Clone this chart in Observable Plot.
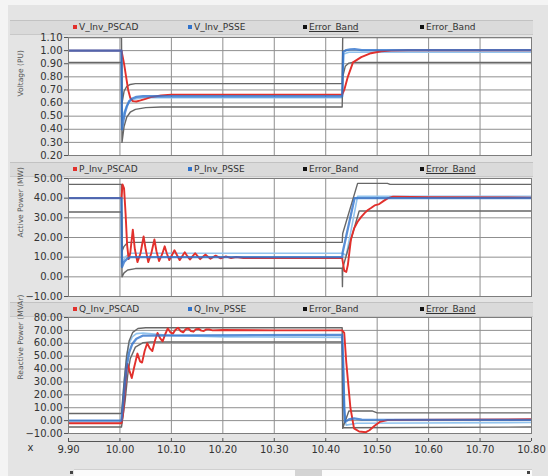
<!DOCTYPE html>
<html>
<head>
<meta charset="utf-8">
<script src="https://cdn.jsdelivr.net/npm/d3@7"></script>
<script src="https://cdn.jsdelivr.net/npm/@observablehq/plot@0.6"></script>
<style>
  html, body { margin: 0; padding: 0; background: #f4f4f4; }
  #page { position: relative; width: 548px; height: 476px; overflow: hidden; background: #f4f4f4; font-family: "DejaVu Sans", sans-serif; }
  #bg { position: absolute; left: 8px; top: 5px; width: 540px; height: 471px; background: #e4e4e4; }
  .legend { position: absolute; left: 10px; width: 523px; height: 13px; background: #dadada; border-top: 1px solid #c2c2c2; border-bottom: 1px solid #c8c8c8; }
  .item { position: absolute; top: 0; height: 13px; line-height: 13px; font-size: 9px; color: #333; white-space: nowrap; }
  .mk { display: inline-block; width: 4px; height: 4px; margin-right: 2px; vertical-align: 1px; }
  .u { text-decoration: underline; }
  #scroll { position: absolute; left: 74px; top: 469px; width: 458px; height: 7px; background: #fbfbfb; border-top: 1px solid #d0d0d0; }
  #thumb { position: absolute; left: 221px; top: 0; width: 27px; height: 7px; background: #d4d4d4; }
  .dot { position: absolute; top: 471px; width: 3px; height: 3px; background: #444; }
  svg.pn { position: absolute; left: 0; }
</style>
</head>
<body>
<div id="page">
  <div id="bg"></div>
  <div id="scroll"><div id="thumb"></div></div>
  <div class="dot" style="left:70px"></div>
  <div class="dot" style="left:527px"></div>
</div>
<script>
// ---------- shared ----------
const xDomain = [9.90, 10.80];
const xTicks = [9.90, 10.00, 10.10, 10.20, 10.30, 10.40, 10.50, 10.60, 10.70, 10.80];

// ---------- Panel 1: Voltage ----------
const vTicks = [0.20, 0.30, 0.40, 0.50, 0.60, 0.70, 0.80, 0.90, 1.00, 1.10];
const vRedT = [9.90, 10.003, 10.008, 10.012, 10.016, 10.020, 10.025, 10.032, 10.040, 10.050, 10.060, 10.080, 10.100, 10.432, 10.436, 10.443, 10.453, 10.469, 10.488, 10.508, 10.527, 10.560, 10.800];
const vRed  = [1.00, 1.00, 0.90, 0.80, 0.70, 0.64, 0.615, 0.612, 0.620, 0.632, 0.645, 0.658, 0.664, 0.665, 0.700, 0.800, 0.910, 0.950, 0.980, 0.995, 1.000, 1.003, 1.003];
const vBlueT = [9.90, 10.003, 10.004, 10.007, 10.010, 10.014, 10.018, 10.024, 10.032, 10.045, 10.432, 10.434, 10.440, 10.448, 10.456, 10.470, 10.800];
const vBlue  = [1.00, 1.00, 0.40, 0.47, 0.53, 0.58, 0.615, 0.635, 0.647, 0.652, 0.652, 0.990, 1.004, 1.010, 1.012, 1.004, 1.004];
const vLightT = [9.90, 10.003, 10.004, 10.008, 10.013, 10.020, 10.030, 10.045, 10.432, 10.435, 10.445, 10.800];
const vLight  = [1.00, 1.00, 0.47, 0.53, 0.58, 0.615, 0.632, 0.640, 0.640, 0.975, 0.988, 0.988];
const vUpT = [9.90, 10.003, 10.004, 10.008, 10.013, 10.020, 10.030, 10.432, 10.433, 10.800];
const vUp  = [1.10, 1.10, 0.60, 0.69, 0.725, 0.742, 0.748, 0.748, 1.10, 1.10];
const vLoT = [9.90, 10.003, 10.004, 10.008, 10.013, 10.020, 10.030, 10.050, 10.080, 10.432, 10.433, 10.438, 10.445, 10.452, 10.800];
const vLo  = [0.91, 0.91, 0.30, 0.42, 0.49, 0.530, 0.552, 0.565, 0.570, 0.570, 0.80, 0.88, 0.905, 0.91, 0.91];

// ---------- Panel 2: Active power ----------
const pTicks = [-10, 0, 10, 20, 30, 40, 50];
const pRedT = [9.90, 10.003, 10.005, 10.008, 10.011, 10.014, 10.017, 10.020, 10.025, 10.029, 10.034, 10.040, 10.046, 10.050, 10.055, 10.061, 10.067, 10.071, 10.076, 10.082, 10.087, 10.091, 10.096, 10.101, 10.106, 10.111, 10.116, 10.121, 10.126, 10.131, 10.136, 10.146, 10.156, 10.166, 10.176, 10.186, 10.196, 10.206, 10.216, 10.226, 10.240, 10.300, 10.432, 10.436, 10.440, 10.443, 10.449, 10.455, 10.462, 10.469, 10.476, 10.482, 10.488, 10.495, 10.504, 10.512, 10.521, 10.531, 10.600, 10.800];
const pRed  = [40, 40, 47, 45, 32, 16, 9, 12, 24, 14, 7.5, 12, 20.5, 14, 7.5, 12, 19, 13, 8, 11.5, 15.5, 12, 8.5, 11, 13.5, 11, 8.5, 10.5, 12.5, 10.5, 8.8, 12, 9, 11.3, 9.2, 10.8, 9.4, 10.4, 9.5, 10.1, 9.6, 9.5, 9.5, 3, 2.5, 6, 19, 24.5, 28, 30.5, 32.5, 34, 35, 36.3, 37, 38.5, 40, 40.8, 40.5, 40.3];
const pBlueT = [9.90, 10.003, 10.004, 10.008, 10.013, 10.020, 10.432, 10.433, 10.456, 10.800];
const pBlue  = [40, 40, 5, 7.5, 9, 10, 10, 12.5, 40, 40];
const pLightT = [9.90, 10.003, 10.004, 10.010, 10.020, 10.432, 10.440, 10.462, 10.800];
const pLight  = [40, 40, 7, 10, 12, 12, 11, 41, 41];
const pUpT = [9.90, 10.003, 10.004, 10.008, 10.015, 10.432, 10.433, 10.462, 10.520, 10.525, 10.800];
const pUp  = [47, 47, 13, 15.5, 17.5, 17.5, 22, 47.5, 47.5, 47, 47];
const pLoT = [9.90, 10.003, 10.004, 10.008, 10.015, 10.030, 10.432, 10.4325, 10.433, 10.465, 10.800];
const pLo  = [33, 33, 0, 2, 3.5, 4.2, 4.5, -5, 4.5, 33.5, 33.5];

// ---------- Panel 3: Reactive power ----------
const qTicks = [-10, 0, 10, 20, 30, 40, 50, 60, 70, 80];
const qRedT = [9.90, 10.003, 10.006, 10.010, 10.013, 10.015, 10.019, 10.023, 10.028, 10.034, 10.039, 10.043, 10.048, 10.053, 10.058, 10.063, 10.068, 10.073, 10.078, 10.083, 10.088, 10.093, 10.098, 10.103, 10.108, 10.113, 10.118, 10.123, 10.128, 10.133, 10.138, 10.143, 10.148, 10.153, 10.158, 10.163, 10.168, 10.173, 10.180, 10.200, 10.300, 10.432, 10.436, 10.440, 10.448, 10.455, 10.465, 10.478, 10.485, 10.495, 10.505, 10.520, 10.800];
const qRed  = [-2, -2, 5, 25, 40, 44, 38, 33, 42, 52, 46, 45, 54, 60, 56, 54, 62, 68, 64, 61.5, 67, 71.5, 68.5, 67.5, 70.5, 72, 69.5, 68.5, 71, 71.5, 69.5, 69, 71, 71.2, 69.8, 69.5, 70.8, 70.8, 70, 70.3, 70, 70, 68, 45, 10, -6, -8.5, -9, -7.5, -4, -1, 0.5, 1];
const qBlueT = [9.90, 10.003, 10.006, 10.010, 10.014, 10.018, 10.024, 10.032, 10.045, 10.432, 10.434, 10.436, 10.438, 10.445, 10.455, 10.470, 10.800];
const qBlue  = [0, 0, 12, 30, 44, 53, 59.5, 63.5, 66, 66.5, 45, 10, -1, 1, 1.8, 0.8, 0.5];
const qLightT = [9.90, 10.003, 10.006, 10.010, 10.014, 10.018, 10.024, 10.032, 10.045, 10.100, 10.200, 10.432, 10.435, 10.437, 10.440, 10.460, 10.800];
const qLight  = [-2, -2, 18, 38, 52, 60, 65, 67.5, 68, 66, 65, 64.5, 30, 0, -3.5, -2, -1.5];
const qUpT = [9.90, 10.003, 10.008, 10.013, 10.018, 10.025, 10.035, 10.050, 10.432, 10.433, 10.445, 10.490, 10.500, 10.800];
const qUp  = [5.5, 5.5, 30, 50, 62, 68.5, 71.5, 72, 72, -6, 7.5, 7.5, 6, 6];
const qLoT = [9.90, 10.003, 10.010, 10.015, 10.020, 10.030, 10.045, 10.060, 10.432, 10.433, 10.800];
const qLo  = [-5, -5, 15, 35, 48, 57, 60.5, 61, 61, -5.5, -5];

// ---------- legend labels ----------
const legend1 = ["V_Inv_PSCAD", "V_Inv_PSSE", "Error_Band", "Error_Band"];
const legend2 = ["P_Inv_PSCAD", "P_Inv_PSSE", "Error_Band", "Error_Band"];
const legend3 = ["Q_Inv_PSCAD", "Q_Inv_PSSE", "Error_Band", "Error_Band"];

const RED = "#e2302c", BLUE = "#2f72cc", LIGHT = "#92c4ee", GRAY = "#676767", GRID = "#8f8f8f";

const page = document.getElementById("page");

function addLegend(top, labels, underline) {
  const div = document.createElement("div");
  div.className = "legend";
  div.style.top = top + "px";
  const xs = [63, 178, 293, 410];
  const cols = [RED, BLUE, "#111", "#111"];
  labels.forEach((t, i) => {
    const it = document.createElement("div");
    it.className = "item";
    it.style.left = xs[i] + "px";
    const mk = document.createElement("span");
    mk.className = "mk";
    mk.style.background = cols[i];
    const tx = document.createElement("span");
    tx.textContent = t;
    if (underline[i]) tx.className = "u";
    it.appendChild(mk); it.appendChild(tx);
    div.appendChild(it);
  });
  page.appendChild(div);
}

function panel({top, height, marginBottom, yDomain, yTicks, label, labelDy, series, bottomAxis}) {
  const lines = [];
  const [red, blue, light, up, lo] = series;
  lines.push(Plot.line(light[1], {x: light[0], y: light[1], stroke: LIGHT, strokeWidth: 1.6, clip: true}));
  lines.push(Plot.line(up[1], {x: up[0], y: up[1], stroke: GRAY, strokeWidth: 1.4, clip: true}));
  lines.push(Plot.line(lo[1], {x: lo[0], y: lo[1], stroke: GRAY, strokeWidth: 1.4, clip: true}));
  lines.push(Plot.line(red[1], {x: red[0], y: red[1], stroke: RED, strokeWidth: 1.9, clip: true}));
  lines.push(Plot.line(blue[1], {x: blue[0], y: blue[1], stroke: BLUE, strokeWidth: 2.3, strokeOpacity: 0.8, clip: true}));
  const marks = [
    Plot.frame({fill: "white"}),
    Plot.gridX(xTicks, {stroke: GRID, strokeOpacity: 1}),
    Plot.gridY(yTicks, {stroke: GRID, strokeOpacity: 1}),
    Plot.axisY(yTicks, {tickFormat: d3.format(".2f"), tickSize: 4, tickPadding: 2, label: null, fontSize: 10, fill: "#333", stroke: "#555"}),
    Plot.text([label], {frameAnchor: "left", rotate: -90, dx: -48, dy: labelDy || 0, fontSize: 7.5, fill: "#555"}),
    ...lines,
    Plot.frame({stroke: "#7d7d7d"})
  ];
  if (bottomAxis) {
    marks.push(Plot.ruleY([yDomain[0]], {dy: 8, stroke: "#555", strokeWidth: 1.2}));
    marks.push(Plot.axisX(xTicks, {tickFormat: d3.format(".2f"), tickSize: 3, tickPadding: 4, dy: 5, label: null, fontSize: 10, fill: "#333", stroke: "#555"}));
    marks.push(Plot.text(["x"], {frameAnchor: "bottom-left", dx: -41, dy: 17, fontSize: 10, fill: "#333"}));
  }
  const svg = Plot.plot({
    width: 548, height,
    marginLeft: 68, marginRight: 17, marginTop: 4, marginBottom,
    x: {domain: xDomain, axis: bottomAxis ? undefined : null},
    y: {domain: yDomain},
    style: {fontFamily: "DejaVu Sans, sans-serif", fontSize: "10px", background: "transparent", overflow: "visible"},
    marks
  });
  svg.classList.add("pn");
  svg.style.top = top + "px";
  page.appendChild(svg);
}

addLegend(20, legend1, [false, false, true, false]);
panel({top: 33, height: 127, marginBottom: 5, yDomain: [0.2, 1.1], yTicks: vTicks, label: "Voltage (PU)",
  series: [[vRedT, vRed], [vBlueT, vBlue], [vLightT, vLight], [vUpT, vUp], [vLoT, vLo]]});

addLegend(162, legend2, [false, false, false, true]);
panel({top: 174, height: 127, marginBottom: 5, yDomain: [-10, 50], yTicks: pTicks, label: "Active Power (MW)",
  series: [[pRedT, pRed], [pBlueT, pBlue], [pLightT, pLight], [pUpT, pUp], [pLoT, pLo]]});

addLegend(302, legend3, [false, false, false, true]);
panel({top: 313, height: 144, marginBottom: 24, yDomain: [-10, 80], yTicks: qTicks, label: "Reactive Power (MVAr)", labelDy: 4,
  series: [[qRedT, qRed], [qBlueT, qBlue], [qLightT, qLight], [qUpT, qUp], [qLoT, qLo]], bottomAxis: true});
</script>
</body>
</html>
